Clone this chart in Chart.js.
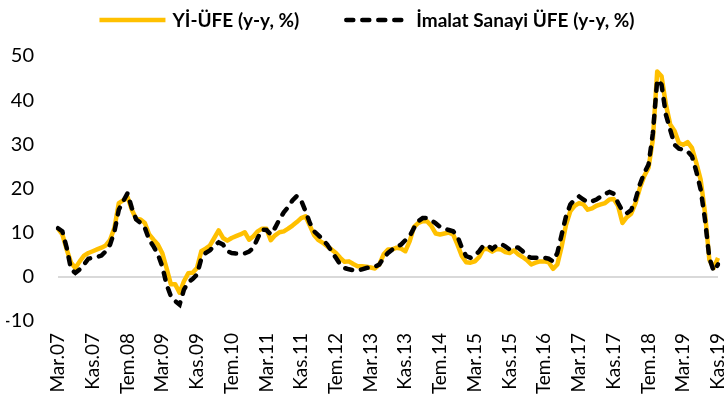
<!DOCTYPE html>
<html>
<head>
<meta charset="utf-8">
<script src="https://cdn.jsdelivr.net/npm/chart.js@4"></script>
<style>
  html, body { margin: 0; padding: 0; background: #fff; }
  #wrap { width: 724px; height: 403px; }
</style>
</head>
<body>
<div id="wrap"><canvas id="ufeChart"></canvas></div>
<script>
// Aylar: Mar.07 - Kas.19, aylık
const MONTHS = ['Oca', 'Şub', 'Mar', 'Nis', 'May', 'Haz', 'Tem', 'Ağu', 'Eyl', 'Eki', 'Kas', 'Ara'];
const START_YEAR = 2007;
const START_MONTH = 2; // Mart
const LABEL_STEP = 8;

const Y_TICKS = { min: -10, max: 50, step: 10 };

// Yİ-ÜFE (y-y, %)
const yiUfe = [
  10.9, 9.6, 6.2, 3.2, 2.0, 3.5, 4.8, 5.4, 5.8, 6.2, 6.6, 7.1,
  8.4, 11.1, 16.7, 17.3, 18.1, 15.2, 13.1, 13.0, 12.2, 9.6, 8.4, 7.3,
  5.4, 2.0, -1.7, -1.7, -3.6, -1.0, 0.8, 0.9, 2.0, 5.8, 6.4, 7.1,
  8.8, 10.5, 8.8, 8.2, 8.8, 9.2, 9.6, 10.1, 8.4, 9.2, 10.3, 10.9,
  10.9, 8.3, 9.4, 10.1, 10.3, 10.9, 11.6, 12.4, 13.3, 13.7, 11.6, 9.4,
  8.3, 7.7, 6.9, 6.2, 5.4, 4.3, 3.4, 3.5, 2.9, 2.4, 2.4, 2.3,
  2.1, 1.9, 2.8, 5.1, 6.2, 6.2, 6.6, 6.4, 5.8, 8.1, 11.3, 12.2,
  12.6, 12.6, 11.5, 9.8, 9.6, 9.8, 10.0, 9.6, 7.3, 4.7, 3.3, 3.2,
  3.5, 4.5, 6.3, 6.3, 5.7, 6.3, 6.2, 5.6, 5.4, 6.0, 5.1, 4.5,
  3.8, 2.8, 3.2, 3.5, 3.5, 3.3, 1.8, 2.8, 6.9, 11.8, 14.9, 16.1,
  16.7, 16.4, 15.2, 15.5, 16.1, 16.4, 16.7, 17.5, 17.6, 16.0, 12.2, 13.5,
  14.3, 16.7, 20.1, 22.8, 24.7, 31.1, 46.5, 45.4, 39.0, 34.5, 33.0, 30.3,
  29.9, 30.5, 29.2, 25.8, 22.0, 14.5, 3.9, 2.0, 4.3
];

// İmalat Sanayi ÜFE (y-y, %)
const imalatUfe = [
  11.0, 10.3, 6.6, 1.7, 0.9, 1.7, 2.8, 4.1, 4.3, 4.5, 4.8, 5.8,
  7.3, 10.3, 15.2, 17.1, 18.9, 15.6, 13.0, 12.2, 11.1, 8.4, 6.9, 5.1,
  2.4, -1.7, -4.4, -5.5, -6.3, -2.9, -1.2, -0.5, 0.5, 4.1, 5.4, 6.0,
  7.1, 7.8, 7.3, 5.8, 5.4, 5.3, 5.3, 5.3, 5.7, 6.6, 8.8, 10.7,
  10.6, 9.6, 11.1, 13.0, 14.6, 15.8, 17.3, 18.3, 17.3, 14.9, 12.2, 10.3,
  9.4, 8.4, 7.3, 5.8, 4.3, 2.8, 2.0, 1.7, 1.5, 1.4, 1.7, 2.0,
  2.1, 2.3, 2.8, 4.3, 5.4, 6.2, 6.8, 7.3, 8.3, 9.2, 11.1, 12.6,
  13.3, 13.3, 12.8, 12.1, 11.3, 10.9, 10.6, 10.3, 9.2, 6.6, 4.7, 4.3,
  4.8, 5.8, 7.1, 7.1, 6.3, 7.1, 7.5, 6.9, 6.2, 6.7, 6.6, 5.8,
  4.7, 4.3, 4.3, 4.3, 4.3, 4.1, 3.5, 5.4, 9.6, 13.7, 16.4, 17.5,
  18.2, 17.5, 16.9, 17.1, 17.5, 18.2, 18.8, 19.2, 18.8, 16.7, 14.9, 14.4,
  15.1, 17.5, 20.9, 23.5, 25.4, 32.5, 44.6, 43.5, 36.7, 33.3, 29.9, 29.0,
  28.8, 28.4, 27.3, 23.9, 19.8, 13.0, 4.3, 1.3, 2.8
];

const labels = yiUfe.map((_, i) => {
  const m = START_MONTH + i;
  const year = START_YEAR + Math.floor(m / 12);
  return MONTHS[m % 12] + '.' + String(year).slice(2);
});

const FONT = 'Lato, "Open Sans", sans-serif';

// üstteki lejant: çizgi örneği + kalın metin, ortalanmış
const topLegend = {
  id: 'topLegend',
  afterDraw(chart) {
    const ctx = chart.ctx;
    const sampleW = 66;
    const textGap = 7;
    const itemGap = 44;
    const y = 20;
    ctx.save();
    ctx.font = 'bold 19px ' + FONT;
    const items = chart.data.datasets.map((ds) => ({
      ds,
      textW: ctx.measureText(ds.label).width
    }));
    const total = items.reduce((s, it) => s + sampleW + textGap + it.textW, 0) + itemGap * (items.length - 1);
    let x = (chart.width - total) / 2 + 5;
    items.forEach(({ ds, textW }) => {
      ctx.beginPath();
      ctx.strokeStyle = ds.borderColor;
      ctx.lineWidth = ds.borderWidth;
      ctx.lineCap = ds.borderCapStyle || 'butt';
      ctx.setLineDash(ds.borderDash || []);
      const inset = ds.borderDash ? 3 : 0;
      ctx.moveTo(x + inset, y);
      ctx.lineTo(x + sampleW - inset, y);
      ctx.stroke();
      ctx.setLineDash([]);
      ctx.fillStyle = '#000';
      ctx.textBaseline = 'middle';
      ctx.textAlign = 'left';
      ctx.fillText(ds.label, x + sampleW + textGap, y + 1);
      x += sampleW + textGap + textW + itemGap;
    });
    ctx.restore();
  }
};

new Chart(document.getElementById('ufeChart').getContext('2d'), {
  type: 'line',
  data: {
    labels: labels,
    datasets: [{
      label: 'Yİ-ÜFE (y-y, %)',
      data: yiUfe,
      borderColor: '#FFC000',
      borderWidth: 4.5,
      borderJoinStyle: 'round',
      pointRadius: 0,
      tension: 0,
      order: 2
    }, {
      label: 'İmalat Sanayi ÜFE (y-y, %)',
      data: imalatUfe,
      borderColor: '#000000',
      borderWidth: 4.5,
      borderDash: [7, 9],
      borderCapStyle: 'round',
      pointRadius: 0,
      tension: 0,
      order: 1
    }]
  },
  options: {
    responsive: true,
    maintainAspectRatio: false,
    animation: false,
    layout: { padding: { top: 56, left: 6, right: 0, bottom: 0 } },
    plugins: {
      legend: { display: false },
      tooltip: { enabled: false }
    },
    scales: {
      x: {
        grid: { display: false, drawTicks: false },
        border: { display: false },
        ticks: {
          autoSkip: false,
          minRotation: 90,
          maxRotation: 90,
          padding: 12,
          color: '#000',
          font: { family: FONT, size: 19 },
          callback: function (value, index) {
            return index % LABEL_STEP === 0 ? labels[index] : '';
          }
        },
        afterFit: function (scale) {
          scale.paddingLeft = 0;
          scale.paddingRight = 6;
          scale.height = 82;
        }
      },
      y: {
        min: Y_TICKS.min,
        max: Y_TICKS.max,
        border: { display: false },
        grid: {
          drawTicks: false,
          lineWidth: 2,
          color: (c) => (c.tick && c.tick.value === 0 ? '#d9d9d9' : 'rgba(0,0,0,0)')
        },
        ticks: {
          stepSize: Y_TICKS.step,
          padding: 24,
          color: '#000',
          font: { family: FONT, size: 20 }
        },
        afterFit: function (scale) {
          scale.width = 52;
        }
      }
    }
  },
  plugins: [topLegend]
});
</script>
</body>
</html>
